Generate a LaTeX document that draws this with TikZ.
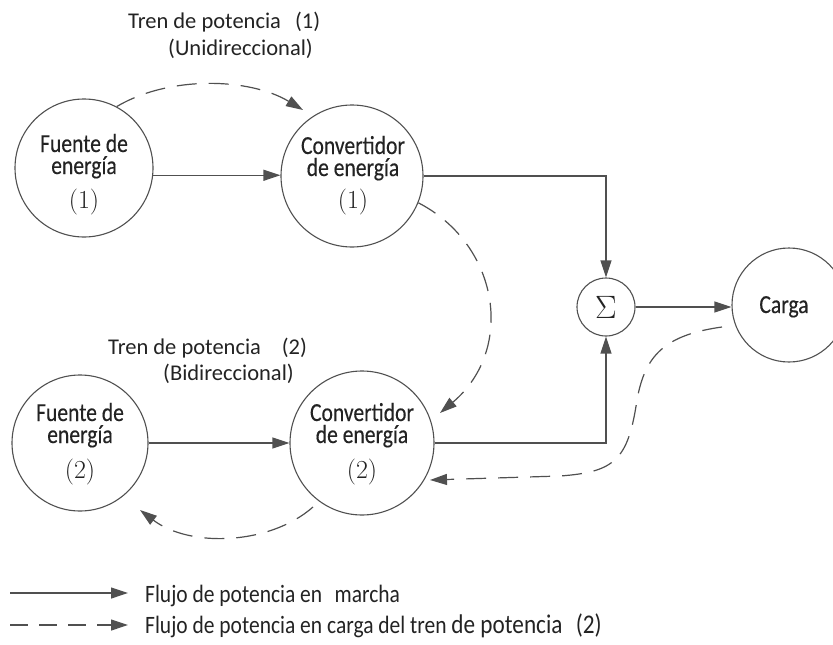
\documentclass[tikz,border=0pt]{standalone}
\usepackage{fontspec}
\newfontfamily\calc[FakeStretch=0.83,FakeBold=0.3]{Carlito}
\newfontfamily\cali{Carlito}
\newfontfamily\calg[FakeStretch=0.86]{Carlito}
\usetikzlibrary{arrows.meta}
\definecolor{lc}{RGB}{80,80,80}
\definecolor{tc}{RGB}{35,35,35}
\begin{document}
\begin{tikzpicture}[x=1pt,y=-1pt,
  circ/.style={draw=lc, line width=1.1pt, circle, inner sep=0pt},
  flow/.style={draw=lc, line width=1.2pt, -{Triangle[length=17pt,width=11pt]}, fill=none},
  dflow/.style={flow, dash pattern=on 20pt off 12pt},
  ctext/.style={font=\calc\fontsize{26}{22}\selectfont, text=tc, anchor=base, inner sep=0pt, align=center},
  ntext/.style={font=\rmfamily\fontsize{26}{26}\selectfont, text=tc, inner sep=0pt},
  ltext/.style={font=\cali\fontsize{22.5}{22.5}\selectfont, text=tc, anchor=base west, inner sep=0pt},
  gtext/.style={font=\calg\fontsize{25}{25}\selectfont, text=tc, anchor=base west, inner sep=0pt},
]
\useasboundingbox (0,0) rectangle (833,645);

% circles
\node[circ, minimum size=138pt] (F1) at (84,168) {};
\node[circ, minimum size=142pt] (C1) at (352,176) {};
\node[circ, minimum size=58pt]  (S)  at (606,307) {};
\node[circ, minimum size=114pt] (L)  at (789,305) {};
\node[circ, minimum size=136pt] (F2) at (80,443) {};
\node[circ, minimum size=144pt] (C2) at (362,443) {};

% circle texts (base = last line)
\node[ctext] (F1t) at (84,174) {Fuente de\\energía};
\node[ntext] (F1n) at (84,202) {(1)};
\node[ctext] (C1t) at (353,176) {Convertidor\\de energía};
\node[ntext] (C1n) at (353,202) {(1)};
\node[ctext] (F2t) at (80,443) {Fuente de\\energía};
\node[ntext] (F2n) at (80,472) {(2)};
\node[ctext] (C2t) at (362,443) {Convertidor\\de energía};
\node[ntext] (C2n) at (362,472) {(2)};
\node[ntext] (St) at (606,307) {\scalebox{1.3}{$\Sigma$}};
\node[ctext] (Lt) at (784,313) {Carga};

% group labels
\node[ltext] (T1) at (128,28) {Tren de potencia\hspace{0.4em} (1)};
\node[ltext] (T1b) at (168,55) {(Unidireccional)};
\node[ltext] (T2) at (108,354) {Tren de potencia\hspace{0.7em} (2)};
\node[ltext] (T2b) at (163,380) {(Bidireccional)};

% solid flows
\draw[flow] (F1.-6) -- (F1.-6 -| C1.west);
\draw[flow] (C1.east) -| (S.north);
\draw[flow] (C2.east) -| (S.south);
\draw[flow] (S.east) -- (S.east -| L.west);
\draw[flow] (F2.east) -- (F2.east -| C2.west);

% dashed flows
\draw[dflow] (F1.62) .. controls (170,75) and (250,78) .. ([shift={(-49,-66)}]C1.center);
\draw[dflow] (C1.-22) .. controls (500,245) and (515,350) .. ([shift={(78,-30)}]C2.center);
\draw[dflow] ([shift={(-67,22)}]L.center) .. controls (665,335) and (645,355) .. (637,400)
   .. controls (628,460) and (615,472) .. (560,476) -- ([shift={(68,37)}]C2.center);
\draw[dflow] ([shift={(-49,64)}]C2.center) .. controls (270,545) and (190,548) .. ([shift={(60,67)}]F2.center);

% legend
\coordinate (l1s) at (10,593);
\coordinate (l1e) at (128,593);
\coordinate (l2s) at (10,625);
\coordinate (l2e) at (128,625);
\draw[flow] (l1s) -- (l1e);
\draw[flow, dash pattern=on 18pt off 11pt] (l2s) -- (l2e);
\node[gtext] (G1) at (145,602) {Flujo de potencia en\hspace{0.3em} marcha};
\node[gtext] (G2) at (145,633) {Flujo de potencia en carga del tren {\fontsize{27}{27}\selectfont de potencia\hspace{0.3em} (2)}};
\end{tikzpicture}
\end{document}
